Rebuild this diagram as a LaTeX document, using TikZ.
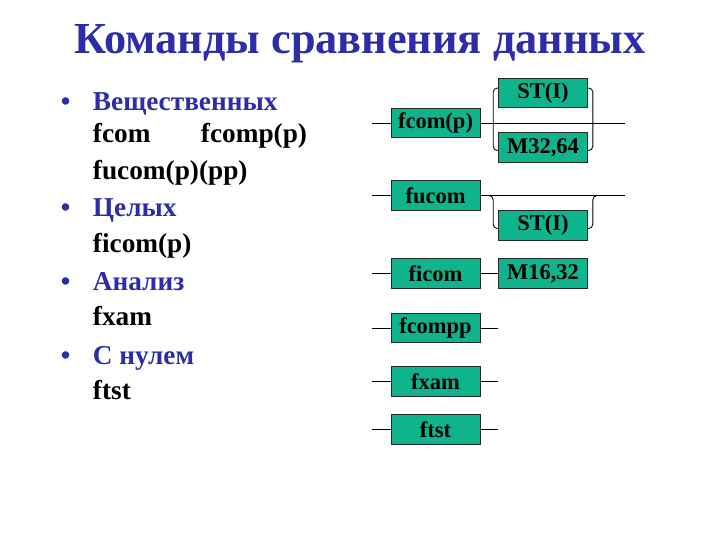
\documentclass[tikz,border=0pt]{standalone}
\usepackage{fontspec}
\setmainfont{Liberation Serif}
\usetikzlibrary{calc,positioning}
\definecolor{titleblue}{RGB}{45,45,170}
\definecolor{boxgreen}{RGB}{15,180,140}
\tikzset{
	cmd/.style={draw=black!85, fill=boxgreen, line width=0.6pt, minimum width=2.22cm, minimum height=0.74cm, inner sep=0pt, font=\fontsize{16}{18}\selectfont\bfseries},
	wire/.style={line width=0.6pt},
	head/.style={anchor=base west, text=titleblue, font=\fontsize{19.4}{22}\selectfont\bfseries},
	item/.style={anchor=base west, font=\fontsize{19.4}{22}\selectfont\bfseries}
}

\begin{document}
\begin{tikzpicture}[x=0.025cm, y=-0.025cm]
		%%%%% START %%%%%
		
		\fill[white] (0, 0) rectangle (720, 540);
		\useasboundingbox (0, 0) rectangle (720, 540);
		
		\node[anchor=base, text=titleblue, font=\fontsize{31.5}{36}\selectfont\bfseries] (title) at (360, 53) {Команды сравнения данных};
		
		% list on the left
		\node[head] (b1) at (56, 110) {\textbullet};
		\node[head] (h1) at (88, 110) {Вещественных};
		\node[item] (t1a) at (88, 142) {fcom};
		\node[item, anchor=base east] (t1b) at (312, 142) {fcomp(p)};
		\node[item] (t1c) at (88, 179) {fucom(p)(pp)};
		
		\node[head] (b2) at (56, 216) {\textbullet};
		\node[head] (h2) at (88, 216) {Целых};
		\node[item] (t2) at (88, 252) {ficom(p)};
		
		\node[head] (b3) at (56, 290) {\textbullet};
		\node[head] (h3) at (88, 290) {Анализ};
		\node[item] (t3) at (88, 325) {fxam};
		
		\node[head] (b4) at (56, 364) {\textbullet};
		\node[head] (h4) at (88, 364) {С нулем};
		\node[item] (t4) at (88, 399) {ftst};
		
		% command boxes
		\node[cmd] (fcomp) at (435.5, 123) {fcom(p)};
		\node[cmd] (fucom) at (435.5, 195.5) {fucom};
		\node[cmd] (ficom) at (435.5, 273.5) {ficom};
		\node[cmd] (fcompp) at (435.5, 328) {fcompp};
		\node[cmd] (fxam) at (435.5, 381.5) {fxam};
		\node[cmd] (ftst) at (435.5, 429.5) {ftst};
		
		% operand boxes
		\node[cmd] (st1) at (543, 93) {ST(I)};
		\node[cmd] (m3264) at (543, 147.5) {M32,64};
		\node[cmd] (st2) at (543, 225.5) {ST(I)};
		\node[cmd] (m1632) at (543, 273.5) {M16,32};
		
		\coordinate[left=0.475cm of fcomp] (fcomp-in);
		\coordinate[left=0.475cm of fucom] (fucom-in);
		\coordinate[left=0.475cm of ficom] (ficom-in);
		\coordinate[left=0.475cm of fcompp] (fcompp-in);
		\coordinate[left=0.475cm of fxam] (fxam-in);
		\coordinate[left=0.475cm of ftst] (ftst-in);
		\coordinate[right=3.625cm of fcomp] (fcomp-out);
		\coordinate[right=3.625cm of fucom] (fucom-out);
		\coordinate[right=0.45cm of fcompp] (fcompp-out);
		\coordinate[right=0.45cm of fxam] (fxam-out);
		\coordinate[right=0.45cm of ftst] (ftst-out);
		
		\draw[wire] (fcomp-in) -- (fcomp);
		\draw[wire] (fucom-in) -- (fucom);
		\draw[wire] (ficom-in) -- (ficom);
		\draw[wire] (fcompp-in) -- (fcompp);
		\draw[wire] (fxam-in) -- (fxam);
		\draw[wire] (ftst-in) -- (ftst);
		
		\draw[wire] (fcomp) -- (fcomp-out);
		\draw[wire] (fucom) -- (fucom-out);
		\draw[wire] (ficom) -- (m1632);
		\draw[wire] (fcompp) -- (fcompp-out);
		\draw[wire] (fxam) -- (fxam-out);
		\draw[wire] (ftst) -- (ftst-out);
		
		% brackets round the operands
		\draw[wire, rounded corners=3pt] ($(st1.west)+(0,-5)$) -- ++(-5,0) |- ($(m3264.west)+(0,3)$);
		\draw[wire, rounded corners=3pt] ($(st1.east)+(0,-5)$) -- ++(5,0) |- ($(m3264.east)+(0,3)$);
		\draw[wire, rounded corners=3pt] ($(st2.west)+(0,3)$) -- ++(-5,0) |- ($(fucom.east)+(8,0)$);
		\draw[wire, rounded corners=3pt] ($(st2.east)+(0,3)$) -- ++(5,0) |- ($(st2.east |- fucom.east)+(12,0)$);
		
		%%%%% END %%%%%
	\end{tikzpicture}
\end{document}
